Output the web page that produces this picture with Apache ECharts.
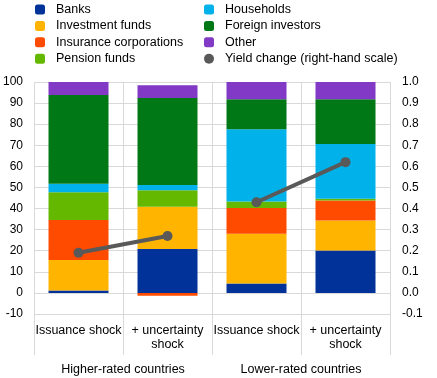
<!DOCTYPE html>
<html>
<head>
<meta charset="utf-8">
<script src="https://cdn.jsdelivr.net/npm/echarts@6/dist/echarts.min.js"></script>
<style>html,body{margin:0;padding:0;background:#fff;}#c{width:437px;height:378px;}</style>
</head>
<body>
<div id="c"></div>
<script>
const categories = ['Issuance shock', '+ uncertainty\nshock', 'Issuance shock', '+ uncertainty\nshock'];
const groups = ['Higher-rated countries', 'Lower-rated countries'];
const banks = [1.1, 20.8, 4.5, 20.1];
const investmentFunds = [14.5, 20.1, 23.5, 14.2];
const insurance = [19.0, -1.3, 12.2, 9.5];
const pensionFunds = [13.1, 7.8, 3.1, 0.8];
const households = [4.0, 2.5, 34.3, 26.0];
const foreignInvestors = [42.1, 41.2, 14.2, 21.2];
const other = [6.2, 6.0, 8.2, 8.2];
const yieldChange = [0.19, 0.27, 0.43, 0.62];
const leftTicks = [-10, 100, 10];
const rightTicks = [-0.1, 1.0, 0.1];

const font = 'Arial, "Liberation Sans", sans-serif';
const grid = '#d9d9d9';
const yieldName = 'Yield change (right-hand scale)';
const barSeries = [
  ['Banks', banks, '#003299'],
  ['Investment funds', investmentFunds, '#ffb400'],
  ['Insurance corporations', insurance, '#ff4b00'],
  ['Pension funds', pensionFunds, '#65b800'],
  ['Households', households, '#00b1ea'],
  ['Foreign investors', foreignInvestors, '#007816'],
  ['Other', other, '#8139c6']
].map(([name, data, color]) => ({
  name, type: 'bar', stack: 'a', data, barWidth: 60,
  itemStyle: { color }, emphasis: { disabled: true }
}));
// one line segment per country group
const lineSeries = groups.map((g, gi) => ({
  name: yieldName, type: 'line', yAxisIndex: 1,
  data: yieldChange.map((v, i) => (Math.floor(i / 2) === gi ? v : null)),
  symbol: 'circle', symbolSize: 10, z: 10,
  lineStyle: { color: '#595959', width: 4 }, itemStyle: { color: '#595959' },
  emphasis: { disabled: true }
}));

const chart = echarts.init(document.getElementById('c'));
const legendBase = {
  orient: 'vertical', itemWidth: 10, itemHeight: 10, itemGap: 3.4,
  textStyle: { fontFamily: font, fontSize: 12.5, color: '#000', padding: [0, 0, 0, 6] },
  selectedMode: false, padding: 0
};
chart.setOption({
  animation: false,
  textStyle: { fontFamily: font },
  legend: [
    Object.assign({}, legendBase, { left: 35, top: 3, data: ['Banks', 'Investment funds', 'Insurance corporations', 'Pension funds'] }),
    Object.assign({}, legendBase, { left: 204, top: 3, data: ['Households', 'Foreign investors', 'Other', { name: yieldName, icon: 'circle' }] })
  ],
  grid: { left: 34, right: 47, top: 82, bottom: 64 },
  xAxis: [
    {
      type: 'category', data: categories, position: 'bottom',
      axisLine: { show: false },
      axisTick: { show: true, length: 62, lineStyle: { color: grid } },
      splitLine: { show: true, lineStyle: { color: grid } },
      axisLabel: { fontFamily: font, fontSize: 12.5, color: '#000', margin: 10, lineHeight: 14, interval: 0 }
    },
    {
      type: 'category', data: groups, position: 'bottom', offset: 41,
      axisLine: { show: false }, axisTick: { show: false },
      axisLabel: { fontFamily: font, fontSize: 12.5, color: '#000', interval: 0 }
    }
  ],
  yAxis: [
    {
      type: 'value', min: leftTicks[0], max: leftTicks[1], interval: leftTicks[2],
      axisLine: { show: false }, axisTick: { show: false },
      splitLine: { lineStyle: { color: grid } },
      axisLabel: { fontFamily: font, fontSize: 12, color: '#000', margin: 11 }
    },
    {
      type: 'value', min: rightTicks[0], max: rightTicks[1], interval: rightTicks[2],
      axisLine: { show: false }, axisTick: { show: false }, splitLine: { show: false },
      axisLabel: { fontFamily: font, fontSize: 12, color: '#000', margin: 12, formatter: v => v.toFixed(1) }
    }
  ],
  series: barSeries.concat(lineSeries)
});
</script>
</body>
</html>
